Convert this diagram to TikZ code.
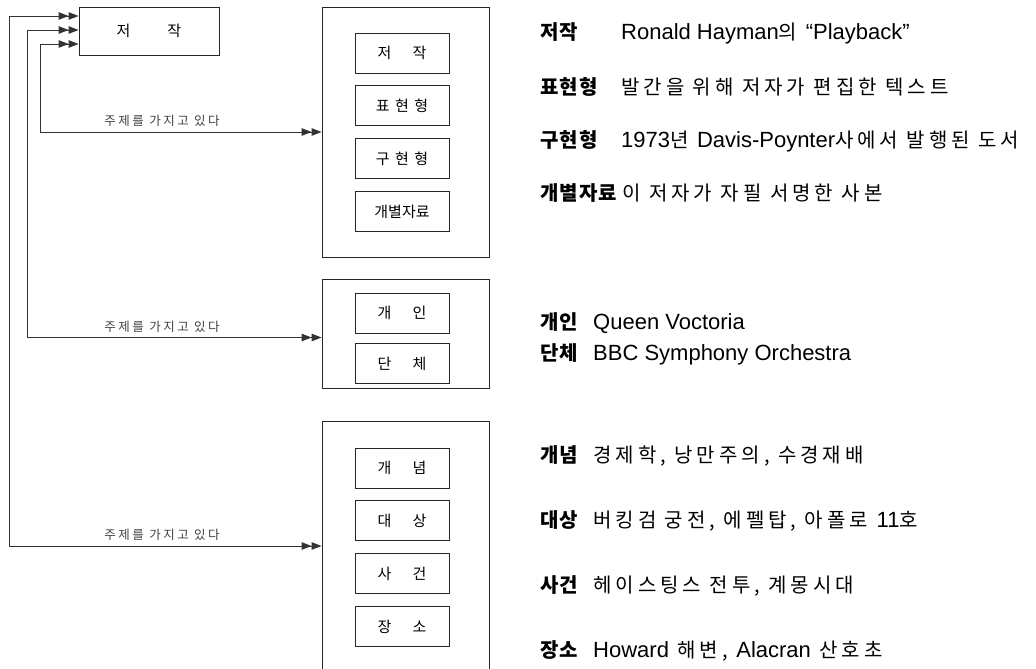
\documentclass[tikz,border=0pt]{standalone}
\usepackage{fontspec}
\setmainfont{Noto Sans CJK KR}
\newfontfamily\krwide{Noto Sans CJK KR}[LetterSpace=20]
\newfontfamily\krterm{Noto Sans CJK KR}[LetterSpace=5]
\newfontfamily\lat{Liberation Sans}
\newcommand\la[1]{{\fontsize{22}{24}\lat #1}}
\usetikzlibrary{arrows.meta,positioning}

\tikzset{
  frame/.style={draw=black!85, line width=.9pt, minimum width=167pt, inner sep=0pt},
  inbox/.style={draw=black!85, line width=.9pt, minimum width=94pt, minimum height=40pt,
    inner sep=0pt, font=\fontsize{15}{17}\selectfont},
  link/.style={draw=black!80, line width=.9pt,
    >={Triangle[length=10pt,width=7.5pt]Triangle[length=10pt,width=7.5pt]}, <->},
  relname/.style={anchor=south, inner sep=0pt, yshift=5pt, text=black!75,
    font=\krwide\fontsize{12.5}{14}\selectfont},
  term/.style={anchor=base west, inner sep=0pt, font=\krterm\fontsize{20}{22}\selectfont\bfseries},
  gloss/.style={anchor=base west, inner sep=0pt, font=\krwide\fontsize{20}{22}\selectfont},
}

\begin{document}
\begin{tikzpicture}[x=1pt,y=-1pt]
  \useasboundingbox (0,0) rectangle (1036,669);
  \clip (0,0) rectangle (1036,669);

  % work box top left
  \node[frame, minimum width=140pt, minimum height=48pt, font=\fontsize{15}{17}\selectfont]
    (work) at (149,31) {저\hspace{37pt}작};

  % group 1: work, expression, manifestation, item
  \node[frame, minimum height=250pt] (bigA) at (405.5,132) {};
  \node[inbox] (a1) at (402,53) {저\hspace{21pt}작};
  \node[inbox, below=12pt of a1] (a2) {표\hspace{5.5pt}현\hspace{5.5pt}형};
  \node[inbox, below=12pt of a2] (a3) {구\hspace{5.5pt}현\hspace{5.5pt}형};
  \node[inbox, below=12pt of a3] (a4) {개별자료};

  % group 2: person, corporate body
  \node[frame, minimum height=109pt] (bigB) at (405.5,333.5) {};
  \node[inbox] (b1) at (402,313) {개\hspace{21pt}인};
  \node[inbox, below=10pt of b1] (b2) {단\hspace{21pt}체};

  % group 3: concept, object, event, place
  \node[frame, minimum height=250pt] (bigC) at (405.5,546) {};
  \node[inbox] (c1) at (402,468) {개\hspace{21pt}념};
  \node[inbox, below=12pt of c1] (c2) {대\hspace{21pt}상};
  \node[inbox, below=12pt of c2] (c3) {사\hspace{21pt}건};
  \node[inbox, below=12pt of c3] (c4) {장\hspace{21pt}소};

  % rails on the left
  \coordinate (railA) at (40,0);
  \coordinate (railB) at (27,0);
  \coordinate (railC) at (9,0);
  \coordinate (lblx) at (162,0);
  \coordinate (inA) at ([yshift=-13pt]work.west);
  \coordinate (inB) at ([yshift=1pt]work.west);
  \coordinate (inC) at ([yshift=15pt]work.west);
  \coordinate (outB) at ([yshift=-4pt]bigB.west);

  \draw[link] (inA) -- (inA -| railA) |- (bigA.west);
  \draw[link] (inB) -- (inB -| railB) |- (outB);
  \draw[link] (inC) -- (inC -| railC) |- (bigC.west);

  \node[relname] at (bigA.west -| lblx) {주제를 가지고 있다};
  \node[relname] at (outB -| lblx) {주제를 가지고 있다};
  \node[relname] at (bigC.west -| lblx) {주제를 가지고 있다};

  % examples on the right
  \node[term] (t1) at (540,40) {저작};
  \node[gloss] (g1) at (621,40) {\la{Ronald Hayman}의 \la{“Playback”}};
  \node[term] (t2) at (540,94) {표현형};
  \node[gloss] (g2) at (621,94) {발간을 위해 저자가 편집한 텍스트};
  \node[term] (t3) at (540,147) {구현형};
  \node[gloss] (g3) at (621,147) {\la{1973}년 \la{Davis-Poynter}사에서 발행된 도서};
  \node[term] (t4) at (540,200) {개별자료};
  \node[gloss] (g4) at (622,200) {이 저자가 자필 서명한 사본};

  \node[term] (t5) at (540,329) {개인};
  \node[gloss] (g5) at (593,329) {\la{Queen Voctoria}};
  \node[term] (t6) at (540,360) {단체};
  \node[gloss] (g6) at (593,360) {\la{BBC Symphony Orchestra}};

  \node[term] (t7) at (540,462) {개념};
  \node[gloss] (g7) at (593,462) {경제학, 낭만주의, 수경재배};
  \node[term] (t8) at (540,527) {대상};
  \node[gloss] (g8) at (593,527) {버킹검 궁전, 에펠탑, 아폴로 \la{11}호};
  \node[term] (t9) at (540,592) {사건};
  \node[gloss] (g9) at (593,592) {헤이스팅스 전투, 계몽시대};
  \node[term] (t10) at (540,657) {장소};
  \node[gloss] (g10) at (593,657) {\la{Howard} 해변, \la{Alacran} 산호초};
\end{tikzpicture}
\end{document}
